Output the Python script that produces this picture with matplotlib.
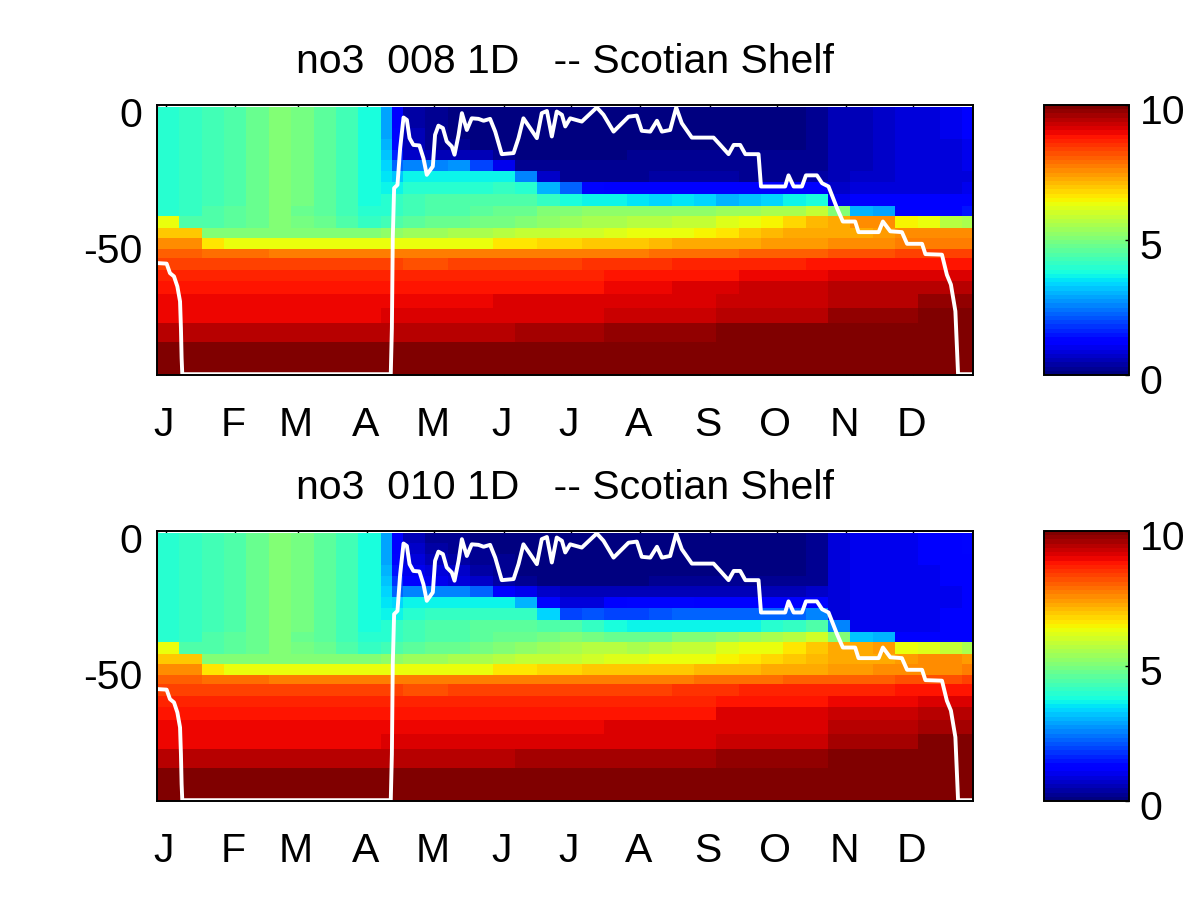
import matplotlib
matplotlib.use("Agg")
import matplotlib.pyplot as plt
import numpy as np
from matplotlib.transforms import ScaledTranslation

plt.rcParams['font.family'] = ['Liberation Sans', 'DejaVu Sans']

titles = ["no3  008 1D   -- Scotian Shelf", "no3  010 1D   -- Scotian Shelf"]
month_labels = ["J", "F", "M", "A", "M", "J", "J", "A", "S", "O", "N", "D"]
month_days = [1, 32, 60, 91, 121, 152, 182, 213, 244, 274, 305, 335]
depth_ticks = [-50, 0]
depth_tick_labels = ["-50", "0"]

# time cells, day of year
day_edges = [-3, 7, 17, 27, 37, 47, 57, 67, 77, 87, 97, 102, 107, 117, 127, 137, 147, 157, 167, 177,
             187, 197, 207, 217, 227, 237, 247, 257, 267, 277, 287, 297, 307, 317, 327, 337, 347, 357, 362]
# model layers, metres
depth_edges = [0, 3.9, 7.9, 11.9, 15.9, 19.5, 23.5, 27.7, 32.0, 36.3, 40.3, 44.4, 48.4, 52.2,
               55.8, 59.9, 64.2, 68.8, 74.0, 79.5, 86.5, 98.7]

# no3, run 008 (rows = layers from the surface, columns = time cells)
no3_008 = [
    [3.95,4.1,4.3,4.5,4.8,5.0,4.9,4.6,4.3,3.85,2.9,1.2,0.4,0.2,0.1,0.1,0.1,0.1,0.1,0.1,0.1,0.1,0.1,0.1,0.1,0.1,0.1,0.1,0.1,0.1,0.2,0.5,0.6,0.7,0.8,0.9,1.0,1.2],
    [3.95,4.1,4.3,4.5,4.8,5.0,4.9,4.6,4.3,3.85,2.9,1.2,0.4,0.2,0.1,0.1,0.1,0.1,0.1,0.1,0.1,0.1,0.1,0.1,0.1,0.1,0.1,0.1,0.1,0.1,0.2,0.5,0.6,0.7,0.8,0.9,1.0,1.2],
    [3.95,4.1,4.3,4.5,4.8,5.0,4.9,4.6,4.3,3.85,2.9,1.3,0.5,0.2,0.1,0.1,0.1,0.1,0.1,0.1,0.1,0.1,0.1,0.1,0.1,0.1,0.1,0.1,0.1,0.1,0.2,0.5,0.6,0.7,0.8,0.9,1.0,1.1],
    [3.95,4.1,4.3,4.5,4.8,5.0,4.9,4.6,4.3,3.85,3.0,1.4,0.5,0.3,0.2,0.1,0.1,0.1,0.1,0.1,0.1,0.1,0.1,0.1,0.1,0.1,0.1,0.1,0.1,0.1,0.2,0.5,0.6,0.7,0.8,0.8,0.9,1.0],
    [3.95,4.1,4.3,4.5,4.8,5.0,4.9,4.6,4.3,3.85,3.2,1.6,0.7,0.6,0.6,0.5,0.2,0.1,0.1,0.1,0.1,0.1,0.2,0.2,0.2,0.2,0.2,0.2,0.2,0.2,0.2,0.5,0.6,0.7,0.8,0.8,0.9,1.0],
    [3.95,4.1,4.3,4.5,4.8,5.0,4.9,4.6,4.3,3.85,3.3,2.2,2.5,2.6,2.7,2.0,1.0,0.3,0.2,0.2,0.2,0.2,0.2,0.3,0.3,0.3,0.3,0.3,0.2,0.2,0.3,0.5,0.6,0.7,0.8,0.8,0.9,1.0],
    [3.95,4.1,4.3,4.5,4.8,5.0,4.9,4.6,4.3,3.85,3.5,3.2,3.6,3.7,3.6,3.6,3.6,2.5,0.7,0.3,0.3,0.3,0.3,0.4,0.4,0.4,0.4,0.3,0.3,0.3,0.4,0.6,0.7,0.7,0.8,0.8,0.9,0.9],
    [3.95,4.1,4.3,4.5,4.8,5.0,4.9,4.6,4.3,3.9,3.7,3.7,4.0,4.0,4.0,4.0,4.1,4.0,3.0,2.2,1.3,1.1,1.1,1.2,1.2,1.1,1.1,1.1,1.1,1.1,1.2,0.7,0.8,0.8,0.9,0.9,0.9,1.0],
    [3.95,4.1,4.3,4.5,4.8,5.0,4.9,4.6,4.3,3.9,4.0,4.1,4.3,4.4,4.5,4.5,4.5,4.4,4.1,3.9,3.7,3.7,3.5,3.4,3.5,3.3,3.1,3.2,3.3,3.7,3.9,1.0,1.1,1.1,1.1,1.1,1.1,1.2],
    [4.0,4.1,4.4,4.6,4.8,5.0,4.8,4.6,4.3,4.0,4.0,4.2,4.3,4.4,4.5,4.6,4.7,4.8,5.0,5.0,5.2,5.2,5.3,5.3,5.3,5.3,5.4,5.4,5.5,5.6,5.9,5.0,3.0,2.9,1.1,1.1,1.2,1.5],
    [6.4,4.5,4.4,4.6,4.8,5.0,4.9,4.7,4.4,4.2,4.3,4.4,4.6,4.7,4.8,4.9,4.9,5.0,5.3,5.4,5.5,5.6,5.7,5.7,5.8,5.9,6.1,6.4,6.5,6.8,7.1,7.2,7.5,7.5,6.5,6.4,5.7,5.6],
    [7.0,6.9,5.0,5.0,5.1,5.1,5.1,5.0,5.0,5.0,5.2,5.3,5.4,5.4,5.5,5.5,5.7,5.8,5.9,6.0,6.0,6.2,6.3,6.4,6.4,6.5,6.7,7.0,7.1,7.2,7.3,7.3,7.3,7.4,7.5,7.5,7.6,7.5],
    [7.5,7.5,6.7,6.4,6.4,6.4,6.4,6.4,6.4,6.4,6.4,6.4,6.4,6.4,6.4,6.4,6.7,6.7,6.8,6.8,6.9,7.0,7.0,7.1,7.2,7.2,7.3,7.3,7.4,7.4,7.4,7.5,7.6,7.6,7.7,7.7,7.7,7.8],
    [8.0,8.0,7.9,7.9,7.85,7.8,7.8,7.75,7.75,7.75,7.75,7.75,7.75,7.75,7.75,7.75,7.75,7.75,7.75,7.8,7.8,7.8,7.8,7.85,7.85,7.9,7.9,8.0,8.0,8.1,8.1,8.2,8.2,8.2,8.3,8.3,8.3,8.4],
    [8.4,8.4,8.35,8.35,8.35,8.3,8.3,8.3,8.3,8.3,8.3,8.3,8.2,8.2,8.3,8.4,8.4,8.4,8.4,8.4,8.5,8.5,8.5,8.5,8.6,8.6,8.7,8.7,8.7,8.7,8.8,8.8,8.8,8.8,8.8,8.9,8.9,8.9],
    [8.6,8.6,8.6,8.6,8.6,8.6,8.6,8.6,8.6,8.6,8.6,8.6,8.6,8.6,8.6,8.6,8.7,8.7,8.7,8.7,8.7,8.8,8.8,8.8,8.9,8.9,8.9,9.0,9.0,9.0,9.0,9.1,9.1,9.1,9.1,9.2,9.2,9.2],
    [8.85,8.85,8.85,8.85,8.85,8.85,8.85,8.85,8.85,8.85,8.85,8.85,8.85,8.85,8.85,8.85,8.9,8.9,8.9,8.9,8.9,9.0,9.0,9.0,9.15,9.15,9.15,9.3,9.3,9.3,9.3,9.4,9.4,9.4,9.4,9.5,9.5,9.5],
    [8.95,8.95,8.95,8.95,8.95,8.95,8.95,8.95,8.95,8.95,9.0,9.0,9.0,9.0,9.0,9.0,9.1,9.1,9.1,9.1,9.1,9.2,9.2,9.2,9.2,9.2,9.35,9.35,9.35,9.35,9.35,9.5,9.5,9.5,9.5,9.75,9.75,9.75],
    [9.05,9.05,9.05,9.05,9.05,9.05,9.05,9.05,9.05,9.05,9.1,9.1,9.1,9.1,9.1,9.1,9.2,9.2,9.2,9.2,9.2,9.35,9.35,9.35,9.35,9.35,9.5,9.5,9.5,9.5,9.5,9.7,9.7,9.7,9.7,9.95,9.95,9.95],
    [9.45,9.45,9.45,9.45,9.45,9.45,9.45,9.45,9.45,9.45,9.45,9.45,9.45,9.45,9.45,9.45,9.45,9.6,9.6,9.6,9.6,9.7,9.7,9.7,9.7,9.7,9.9,9.9,9.9,9.9,9.9,10.0,10.0,10.0,10.0,10.0,10.0,10.0],
    [10.0,10.0,10.0,10.0,10.0,10.0,10.0,10.0,10.0,10.0,10.0,10.0,10.0,10.0,10.0,10.0,10.0,10.0,10.0,10.0,10.0,10.0,10.0,10.0,10.0,10.0,10.0,10.0,10.0,10.0,10.0,10.0,10.0,10.0,10.0,10.0,10.0,10.0],
]

# no3, run 010
no3_010 = [
    [3.95,4.1,4.3,4.5,4.8,5.0,4.9,4.6,4.3,3.85,2.9,1.2,0.6,0.3,0.2,0.1,0.1,0.1,0.1,0.1,0.1,0.1,0.1,0.1,0.1,0.1,0.1,0.1,0.1,0.1,0.3,0.9,1.0,1.0,1.0,1.1,1.2,1.4],
    [3.95,4.1,4.3,4.5,4.8,5.0,4.9,4.6,4.3,3.85,2.9,1.2,0.7,0.4,0.3,0.2,0.1,0.1,0.1,0.1,0.1,0.1,0.1,0.1,0.1,0.1,0.1,0.1,0.1,0.1,0.3,0.9,1.0,1.0,1.0,1.1,1.2,1.4],
    [3.95,4.1,4.3,4.5,4.8,5.0,4.9,4.6,4.3,3.85,2.9,1.3,0.8,0.6,0.4,0.2,0.2,0.1,0.1,0.1,0.1,0.1,0.1,0.1,0.1,0.1,0.1,0.1,0.1,0.1,0.3,0.9,1.0,1.0,1.0,1.1,1.1,1.2],
    [3.95,4.1,4.3,4.5,4.8,5.0,4.9,4.6,4.3,3.85,3.0,1.5,1.0,0.9,0.7,0.4,0.2,0.1,0.1,0.1,0.1,0.1,0.1,0.1,0.1,0.1,0.1,0.1,0.1,0.1,0.3,0.9,1.0,1.0,1.0,1.0,1.1,1.1],
    [3.95,4.1,4.3,4.5,4.8,5.0,4.9,4.6,4.3,3.85,3.2,1.8,1.1,1.0,0.9,0.7,0.4,0.2,0.1,0.1,0.1,0.1,0.1,0.2,0.2,0.2,0.2,0.2,0.2,0.2,0.3,0.9,1.0,1.0,1.0,1.0,1.1,1.1],
    [3.95,4.1,4.3,4.5,4.8,5.0,4.9,4.6,4.3,3.85,3.3,2.3,2.6,2.6,2.5,2.2,1.2,1.0,0.7,0.5,0.5,0.5,0.6,0.6,0.6,0.6,0.6,0.6,0.6,0.6,0.7,0.9,1.0,1.0,1.0,1.0,1.0,1.1],
    [3.95,4.1,4.3,4.5,4.8,5.0,4.9,4.6,4.3,3.85,3.5,3.3,3.6,3.7,3.7,3.7,3.6,3.0,1.3,0.8,0.9,1.1,1.3,1.3,1.3,1.2,1.1,1.1,1.1,1.2,1.2,0.9,1.0,1.0,1.0,1.0,1.0,1.1],
    [3.95,4.1,4.3,4.5,4.8,5.0,4.9,4.6,4.3,3.9,3.7,3.7,4.0,4.1,4.1,4.1,4.2,4.1,3.3,1.9,2.1,1.9,2.0,2.1,2.2,2.2,2.2,2.3,2.3,2.3,2.5,0.9,1.0,1.0,1.0,1.0,1.1,1.1],
    [3.95,4.1,4.3,4.5,4.8,5.0,4.9,4.6,4.3,3.9,4.0,4.1,4.3,4.4,4.5,4.6,4.6,4.6,4.5,4.4,4.2,3.8,3.6,3.6,3.6,3.6,3.6,3.6,4.0,4.2,4.5,2.5,1.0,1.0,1.0,1.0,1.1,1.1],
    [4.0,4.1,4.4,4.6,4.8,5.0,4.8,4.6,4.3,4.0,4.0,4.2,4.3,4.4,4.5,4.6,4.7,4.8,4.9,5.0,4.9,4.8,4.7,4.8,5.0,5.1,5.3,5.4,5.5,5.7,6.0,5.0,3.2,3.0,1.1,1.1,1.1,1.2],
    [6.4,4.5,4.4,4.6,4.8,5.0,4.9,4.7,4.4,4.2,4.3,4.4,4.6,4.7,4.8,4.9,5.0,5.2,5.4,5.6,5.7,5.7,5.6,5.7,5.8,5.9,6.1,6.3,6.4,6.6,6.9,7.2,7.3,7.4,6.4,6.2,5.9,5.6],
    [7.0,6.9,5.0,5.0,5.1,5.1,5.1,5.0,5.0,5.0,5.2,5.3,5.4,5.4,5.5,5.5,5.7,5.8,5.8,5.9,6.0,6.1,6.2,6.4,6.4,6.4,6.5,6.6,6.8,7.0,7.1,7.2,7.2,7.3,7.4,7.5,7.5,7.4],
    [7.5,7.5,6.7,6.4,6.4,6.4,6.4,6.4,6.4,6.4,6.4,6.4,6.4,6.4,6.4,6.4,6.7,6.7,6.8,6.8,6.9,7.0,7.0,7.0,7.0,7.1,7.1,7.1,7.2,7.2,7.3,7.4,7.4,7.5,7.5,7.6,7.6,7.7],
    [8.0,8.0,7.9,7.9,7.85,7.8,7.8,7.75,7.75,7.75,7.75,7.75,7.75,7.75,7.75,7.75,7.75,7.75,7.75,7.8,7.8,7.8,7.8,7.8,7.8,7.85,7.85,7.9,7.9,8.0,8.0,8.1,8.1,8.1,8.2,8.2,8.2,8.3],
    [8.4,8.4,8.35,8.35,8.35,8.3,8.3,8.3,8.3,8.3,8.3,8.3,8.2,8.2,8.3,8.3,8.3,8.3,8.3,8.3,8.4,8.4,8.4,8.4,8.5,8.5,8.5,8.6,8.6,8.6,8.7,8.7,8.7,8.7,8.8,8.8,8.8,8.9],
    [8.6,8.6,8.6,8.6,8.6,8.6,8.6,8.6,8.6,8.6,8.6,8.6,8.6,8.6,8.6,8.6,8.6,8.6,8.6,8.6,8.6,8.7,8.7,8.7,8.7,8.7,8.8,8.8,8.8,8.8,8.8,9.0,9.0,9.0,9.0,9.1,9.1,9.1],
    [8.85,8.85,8.85,8.85,8.85,8.85,8.85,8.85,8.85,8.85,8.85,8.85,8.85,8.85,8.85,8.85,8.85,8.85,8.85,8.85,8.85,8.9,8.9,8.9,8.9,8.9,9.1,9.1,9.1,9.1,9.1,9.25,9.25,9.25,9.25,9.4,9.4,9.4],
    [8.95,8.95,8.95,8.95,8.95,8.95,8.95,8.95,8.95,8.95,9.0,9.0,9.0,9.0,9.0,9.0,9.0,9.0,9.0,9.0,9.0,9.1,9.1,9.1,9.1,9.1,9.2,9.2,9.2,9.2,9.2,9.4,9.4,9.4,9.4,9.6,9.6,9.6],
    [9.05,9.05,9.05,9.05,9.05,9.05,9.05,9.05,9.05,9.05,9.1,9.1,9.1,9.1,9.1,9.1,9.1,9.1,9.1,9.1,9.1,9.2,9.2,9.2,9.2,9.2,9.35,9.35,9.35,9.35,9.35,9.55,9.55,9.55,9.55,9.85,9.85,9.85],
    [9.45,9.45,9.45,9.45,9.45,9.45,9.45,9.45,9.45,9.45,9.45,9.45,9.45,9.45,9.45,9.45,9.45,9.55,9.55,9.55,9.55,9.65,9.65,9.65,9.65,9.65,9.8,9.8,9.8,9.8,9.8,9.95,9.95,9.95,9.95,10.0,10.0,10.0],
    [10.0,10.0,10.0,10.0,10.0,10.0,10.0,10.0,10.0,10.0,10.0,10.0,10.0,10.0,10.0,10.0,10.0,10.0,10.0,10.0,10.0,10.0,10.0,10.0,10.0,10.0,10.0,10.0,10.0,10.0,10.0,10.0,10.0,10.0,10.0,10.0,10.0,10.0],
]

# white line (same in both panels)
line_day = [-2.8, 1.3, 2.8, 4.6, 6.1, 7.3, 7.7, 8.0, 8.3, 101.5, 102.0, 102.4, 103.0, 104.5, 105.7, 107.2, 108.7, 109.9,
            111.6, 114.3, 116.1, 117.6, 120.3, 121.3, 122.8, 124.8, 126.5, 128.8, 130.0, 131.8, 133.3, 135.5, 137.7,
            140.7, 143.0, 145.9, 148.2, 151.1, 156.4, 158.6, 160.8, 163.8, 166.8, 169.0, 171.3, 173.5, 175.7, 178.0,
            179.5, 181.7, 186.9, 193.6, 196.6, 201.1, 207.8, 211.5, 213.7, 217.5, 220.5, 222.7, 226.4, 229.1, 231.6,
            236.1, 245.8, 248.8, 252.5, 254.8, 257.7, 260.0, 265.9, 267.0, 277.8, 279.3, 281.6, 285.3, 287.1, 292.0,
            294.3, 297.2, 301.0, 303.6, 309.1, 310.6, 319.6, 321.5, 324.8, 330.0, 332.3, 339.0, 340.5, 347.9, 350.1,
            351.9, 353.9, 355.1, 362.0]
line_depth = [57.5, 57.7, 61.2, 62.4, 66.1, 71.6, 81.4, 92.4, 98.4, 98.4, 81.4, 48.3, 29.9, 28.7, 15.2, 3.9, 4.8, 11.5,
              14.0, 14.2, 18.9, 25.0, 21.9, 10.3, 6.9, 7.8, 12.7, 14.6, 17.6, 10.3, 2.3, 8.5, 4.2,
              4.4, 5.1, 4.4, 9.1, 17.4, 17.0, 11.5, 4.2, 7.8, 11.5, 2.3, 1.5, 10.9, 1.7, 2.9,
              7.2, 4.2, 5.4, 0.2, 2.9, 9.1, 3.6, 3.2, 8.8, 9.1, 5.1, 9.1, 8.5, 0.2, 6.0,
              11.3, 11.3, 14.0, 17.4, 14.0, 14.0, 17.4, 17.4, 29.3, 29.3, 25.2, 29.3, 29.3, 25.2, 25.2,
              28.1, 29.3, 37.3, 42.2, 42.2, 46.1, 46.1, 42.2, 45.8, 46.1, 50.4, 50.4, 54.2, 54.4, 61.8,
              65.4, 75.2, 98.4, 98.4]

W, H = 1202.0, 900.0
FS = 29.5


def px_axes(fig, left, right, top, bottom):
    return fig.add_axes([left / W, 1 - bottom / H, (right - left) / W, (bottom - top) / H])


def shift_labels(labels, fig, dx, dy):
    # the labels sit a little off their ticks in the original
    off = ScaledTranslation(dx / 100.0, dy / 100.0, fig.dpi_scale_trans)
    for lab in labels:
        lab.set_transform(lab.get_transform() + off)


fig = plt.figure(figsize=(12.02, 9), dpi=100)
cmap = plt.get_cmap('jet', 64)

panels = [(no3_008, titles[0], 105, 375), (no3_010, titles[1], 531, 801)]
for values, title, top, bottom in panels:
    ax = px_axes(fig, 157, 973.5, top, bottom)
    mesh = ax.pcolormesh(day_edges, -np.array(depth_edges), np.array(values), cmap=cmap,
                         vmin=0, vmax=10, shading='flat')
    ax.plot(line_day, -np.array(line_depth), color='white', lw=2.8, solid_joinstyle='round')
    ax.set_xlim(-3, 362)
    ax.set_ylim(-98.7, 0.7)
    ax.set_axisbelow(True)
    ax.set_xticks(month_days)
    ax.set_xticklabels(month_labels, fontsize=FS)
    ax.set_yticks(depth_ticks)
    ax.set_yticklabels(depth_tick_labels, fontsize=FS)
    ax.tick_params(axis='x', direction='in', length=1.5, width=1, top=True, pad=22.5)
    ax.tick_params(axis='y', direction='in', length=1.5, width=1, pad=10)
    shift_labels(ax.get_xticklabels(), fig, -2, 0)
    shift_labels(ax.get_yticklabels(), fig, -1, -5)
    for s in ax.spines.values():
        s.set_linewidth(1.4)
    ax.set_title(title, fontsize=FS, pad=23)

    cax = px_axes(fig, 1044, 1128.5, top, bottom)
    cb = fig.colorbar(mesh, cax=cax, ticks=[0, 5, 10])
    cb.ax.set_yticklabels(["0", "5", "10"], fontsize=FS)
    cb.ax.tick_params(direction='in', length=3, width=1, pad=8)
    cb.outline.set_linewidth(1.4)
    shift_labels(cb.ax.get_yticklabels(), fig, 0, -4)

fig.savefig("out.png", dpi=100)
